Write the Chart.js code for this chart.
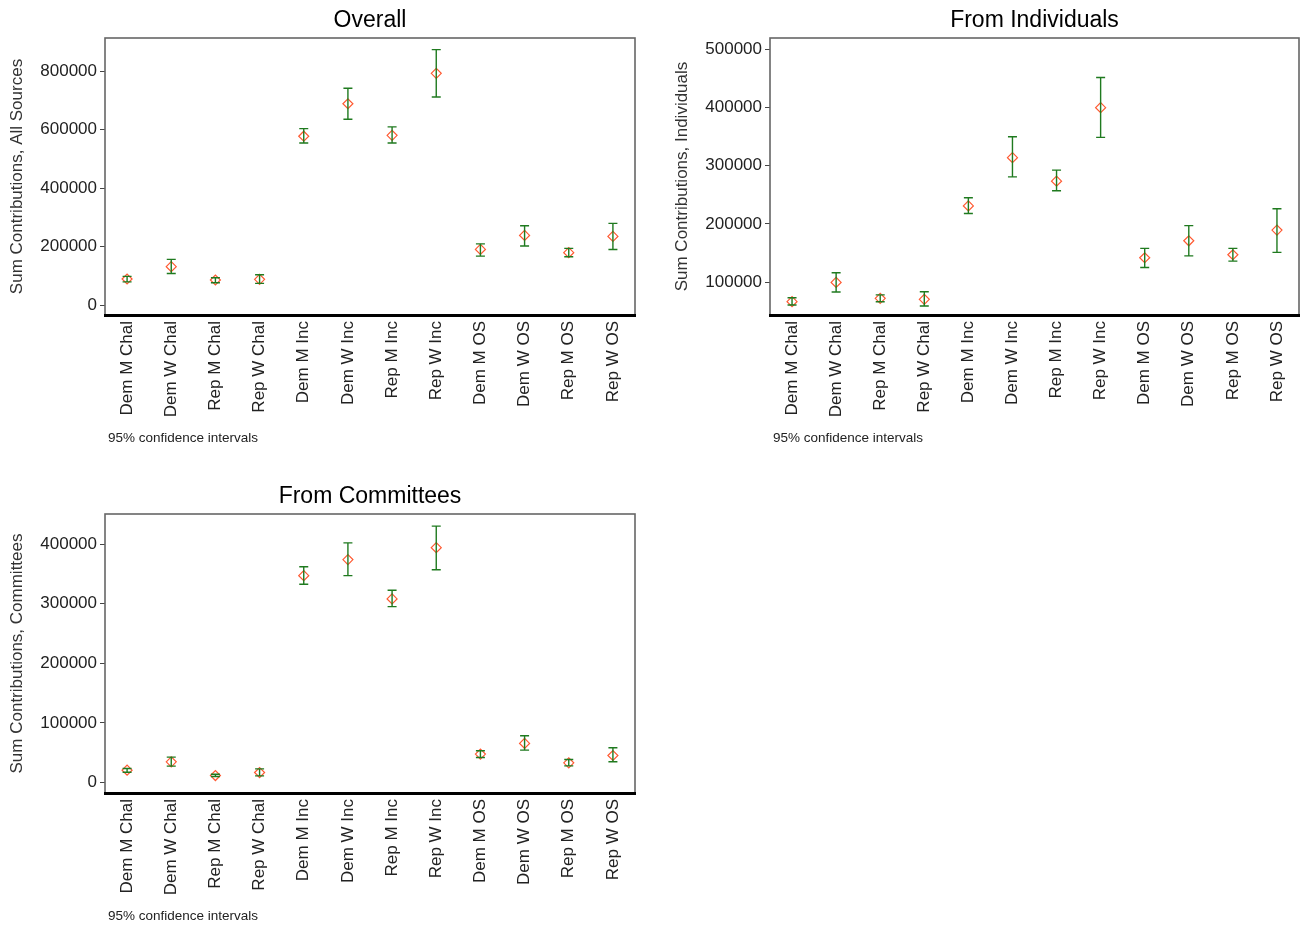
<!DOCTYPE html>
<html><head><meta charset="utf-8">
<script src="https://cdn.jsdelivr.net/npm/chart.js@4.4.1/dist/chart.umd.min.js"></script>
<style>
html,body{margin:0;padding:0;background:#fff;width:1309px;height:926px;overflow:hidden;}
canvas{position:absolute;display:block;}
</style></head><body>
<canvas id="c1" width="650" height="463" style="left:0;top:0"></canvas>
<canvas id="c2" width="644" height="463" style="left:665px;top:0"></canvas>
<canvas id="c3" width="650" height="449" style="left:0;top:477px"></canvas>
<script>
const categories = ['Dem M Chal','Dem W Chal','Rep M Chal','Rep W Chal','Dem M Inc','Dem W Inc','Rep M Inc','Rep W Inc','Dem M OS','Dem W OS','Rep M OS','Rep W OS'];

const overallMean = [90000,132000,86500,88700,578000,689000,581000,793000,191000,239000,180000,235500];
const overallLo   = [80000,109000,77000,75000,555000,636000,555000,712000,168000,202500,166000,191000];
const overallHi   = [99000,157000,94000,104700,604000,742000,610000,874000,210000,272000,194500,280000];

const indivMean = [66200,99400,72000,70200,231000,314000,273600,400000,141800,171000,147000,189400];
const indivLo   = [60500,83000,66000,58700,218000,281000,257000,349000,125000,145000,136000,151000];
const indivHi   = [73000,116000,78000,83400,245000,350000,292500,452000,158000,197000,158000,226000];

const commMean = [20800,34800,11800,16800,347000,374000,308000,394000,47700,65600,33100,45400];
const commLo   = [17400,27500,10100,11200,332700,347000,295000,357000,42000,54400,28000,34800];
const commHi   = [23600,42600,14000,23000,362000,402000,322600,430000,53300,78500,38700,58300];

const overallTicks = [0,200000,400000,600000,800000];
const indivTicks   = [100000,200000,300000,400000,500000];
const commTicks    = [0,100000,200000,300000,400000];

const noteText = '95% confidence intervals';
const FONT = "'Liberation Sans', Arial, sans-serif";
const GREEN = '#1f7a1f';
const ORANGE = '#ff5a32';

function makePanel(id, title, yTitle, means, lo, hi, ticks, yMin, yMax, padTop, padRight, bottomY) {
  const canvas = document.getElementById(id);
  const H = canvas.height;
  const panelPlugin = {
    id: 'panel_' + id,
    afterDatasetsDraw(chart) {
      const ctx = chart.ctx, xs = chart.scales.x, ys = chart.scales.y;
      ctx.save();
      ctx.strokeStyle = GREEN;
      ctx.lineWidth = 1.4;
      for (let i = 0; i < means.length; i++) {
        const x = xs.getPixelForValue(i);
        const y1 = ys.getPixelForValue(lo[i]);
        const y2 = ys.getPixelForValue(hi[i]);
        ctx.beginPath();
        ctx.moveTo(x, y1); ctx.lineTo(x, y2);
        ctx.moveTo(x - 4.5, y1); ctx.lineTo(x + 4.5, y1);
        ctx.moveTo(x - 4.5, y2); ctx.lineTo(x + 4.5, y2);
        ctx.stroke();
      }
      ctx.restore();
    },
    afterDraw(chart) {
      const ctx = chart.ctx, a = chart.chartArea;
      ctx.save();
      ctx.strokeStyle = '#666';
      ctx.lineWidth = 1.6;
      ctx.strokeRect(a.left, a.top, a.right - a.left, a.bottom - a.top);
      ctx.strokeStyle = '#000';
      ctx.lineWidth = 3;
      ctx.beginPath();
      ctx.moveTo(a.left - 1, a.bottom + 0.5);
      ctx.lineTo(a.right + 1, a.bottom + 0.5);
      ctx.stroke();
      ctx.fillStyle = '#000';
      ctx.font = '23px ' + FONT;
      ctx.textAlign = 'center';
      ctx.textBaseline = 'middle';
      ctx.fillText(title, (a.left + a.right) / 2, a.top - 17);
      ctx.fillStyle = '#222';
      ctx.font = '13.5px ' + FONT;
      ctx.textAlign = 'left';
      ctx.fillText(noteText, a.left + 3, a.bottom + 123);
      ctx.restore();
    }
  };
  return new Chart(canvas, {
    type: 'line',
    data: {
      labels: categories,
      datasets: [{
        data: means,
        showLine: false,
        pointStyle: 'rectRot',
        pointRadius: 5,
        pointBorderWidth: 1.2,
        pointBorderColor: ORANGE,
        pointBackgroundColor: 'rgba(0,0,0,0)',
        borderColor: ORANGE
      }]
    },
    plugins: [panelPlugin],
    options: {
      responsive: false,
      animation: false,
      devicePixelRatio: 1,
      layout: { padding: { top: padTop, right: padRight, left: 0, bottom: 0 } },
      plugins: { legend: { display: false }, tooltip: { enabled: false }, title: { display: false } },
      scales: {
        x: {
          type: 'category',
          offset: true,
          grid: { display: false },
          border: { display: false },
          ticks: { autoSkip: false, minRotation: 90, maxRotation: 90, padding: -2, color: '#222', font: { family: FONT, size: 17 } },
          afterFit(s) { s.height = H - bottomY; }
        },
        y: {
          type: 'linear',
          min: yMin, max: yMax,
          grid: { display: true, drawOnChartArea: false, drawTicks: true, tickLength: 5, color: '#444', lineWidth: 1 },
          border: { display: false },
          ticks: { padding: 3, color: '#222', font: { family: FONT, size: 17 }, callback: v => String(v) },
          afterBuildTicks(s) { s.ticks = ticks.map(v => ({ value: v })); },
          title: { display: true, text: yTitle, color: '#333', font: { family: FONT, size: 17 }, padding: { top: 7, bottom: 0 } },
          afterFit(s) { s.width = 105; }
        }
      }
    }
  });
}

makePanel('c1', 'Overall', 'Sum Contributions, All Sources', overallMean, overallLo, overallHi, overallTicks, -33100, 913700, 38, 15, 315);
makePanel('c2', 'From Individuals', 'Sum Contributions, Individuals', indivMean, indivLo, indivHi, indivTicks, 43300, 519900, 38, 10, 315);
makePanel('c3', 'From Committees', 'Sum Contributions, Committees', commMean, commLo, commHi, commTicks, -17500, 450400, 37, 15, 316);
</script>
</body></html>
